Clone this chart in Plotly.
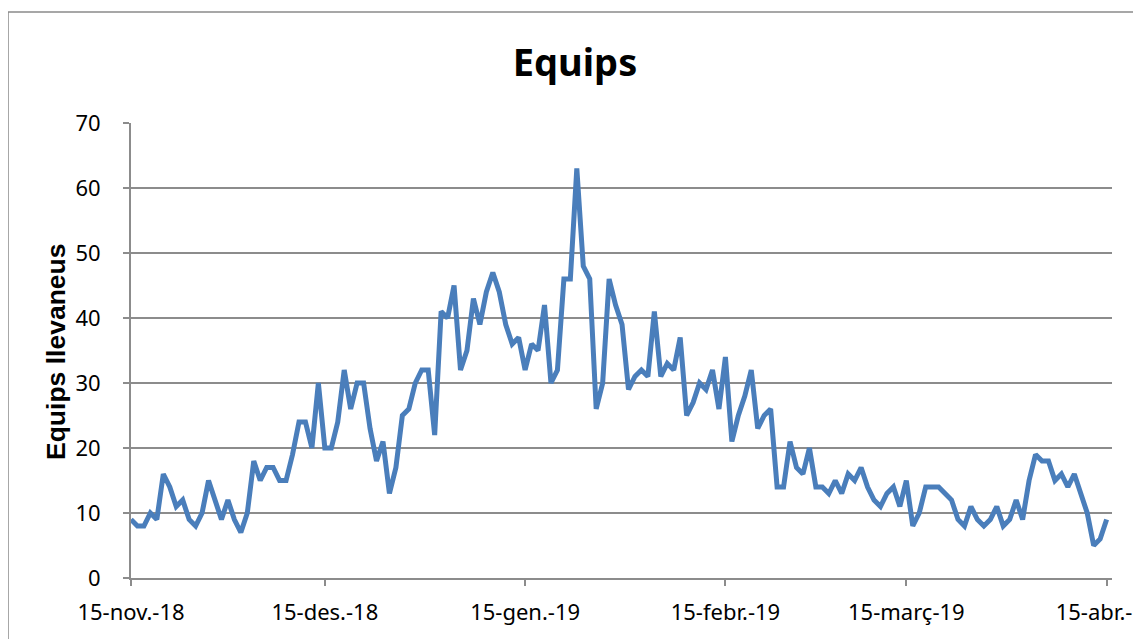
import pandas as pd
import plotly.graph_objects as go

# ---- data (daily values) ----
start_date = "2018-11-15"
equips = [9, 8, 8, 10, 9, 16, 14, 11, 12, 9, 8, 10, 15, 12, 9, 12, 9, 7, 10, 18,
          15, 17, 17, 15, 15, 19, 24, 24, 20, 30, 20, 20, 24, 32, 26, 30, 30, 23, 18, 21,
          13, 17, 25, 26, 30, 32, 32, 22, 41, 40, 45, 32, 35, 43, 39, 44, 47, 44, 39, 36,
          37, 32, 36, 35, 42, 30, 32, 46, 46, 63, 48, 46, 26, 30, 46, 42, 39, 29, 31, 32,
          31, 41, 31, 33, 32, 37, 25, 27, 30, 29, 32, 26, 34, 21, 25, 28, 32, 23, 25, 26,
          14, 14, 21, 17, 16, 20, 14, 14, 13, 15, 13, 16, 15, 17, 14, 12, 11, 13, 14, 11,
          15, 8, 10, 14, 14, 14, 13, 12, 9, 8, 11, 9, 8, 9, 11, 8, 9, 12, 9, 15,
          19, 18, 18, 15, 16, 14, 16, 13, 10, 5, 6, 9]
tick_dates = ["2018-11-15", "2018-12-15", "2019-01-15", "2019-02-15", "2019-03-15", "2019-04-15"]
tick_labels = ["15-nov.-18", "15-des.-18", "15-gen.-19", "15-febr.-19", "15-març-19", "15-abr.-19"]
y_ticks = [0, 10, 20, 30, 40, 50, 60, 70]

dates = pd.date_range(start=start_date, periods=len(equips), freq="D")

# the page body has an 8px margin, so the figure is offset by 8px
OFF = 8
W, H = 1141 - OFF, 639 - OFF
L, R, T, B = 131 - OFF, 1112 - OFF, 123 - OFF, 578 - OFF
pw, ph = R - L, B - T

fig = go.Figure()
fig.add_trace(go.Scatter(
    x=dates, y=equips, mode="lines",
    line=dict(color="#4a7ebb", width=5),
    hoverinfo="x+y", showlegend=False,
))

grid_col = "#8c8c8c"
tick_font = dict(family="Noto Sans, Open Sans, sans-serif", size=22, color="#000000")

fig.update_layout(
    width=W, height=H,
    margin=dict(l=L, r=W - R, t=T, b=H - B, autoexpand=False),
    paper_bgcolor="white", plot_bgcolor="white",
    title=dict(
        text="<b>Equips</b>",
        font=dict(family="Noto Sans, Open Sans, sans-serif", size=38, color="#000000"),
        xref="container", yref="container",
        x=(575 - OFF) / W, y=1 - (63 - OFF) / H, xanchor="center", yanchor="middle",
    ),
    xaxis=dict(
        type="date",
        range=["2018-11-15", "2019-04-15 20:00"],
        tickmode="array", tickvals=tick_dates, ticktext=tick_labels,
        showgrid=False, zeroline=False,
        showline=True, linecolor=grid_col, linewidth=2,
        ticks="outside", ticklen=6, tickwidth=1.5, tickcolor=grid_col,
        tickfont=tick_font, ticklabelstandoff=8,
        ticklabeloverflow="allow",
    ),
    yaxis=dict(
        range=[0, 70], tickmode="array", tickvals=y_ticks,
        showgrid=True, gridcolor=grid_col, gridwidth=2,
        zeroline=False,
        showline=True, linecolor=grid_col, linewidth=2,
        ticks="outside", ticklen=6, tickwidth=1.5, tickcolor=grid_col,
        tickfont=tick_font, ticklabelstandoff=18,
    ),
    annotations=[dict(
        text="<b>Equips llevaneus</b>",
        font=dict(family="Liberation Sans, Arial, sans-serif", size=26.5, color="#000000"),
        textangle=-90, showarrow=False,
        xref="paper", yref="paper",
        x=(56 - 131) / pw, y=(578 - 352) / ph,
        xanchor="center", yanchor="middle",
    )],
    shapes=[dict(
        type="rect", xref="paper", yref="paper",
        x0=(8 - 131) / pw, x1=(1200 - 131) / pw,
        y0=(578 - 700) / ph, y1=(578 - 12) / ph,
        line=dict(color="#8a8a8a", width=1.5), fillcolor="rgba(0,0,0,0)",
        layer="below",
    )],
)

fig.write_html("out.html")
